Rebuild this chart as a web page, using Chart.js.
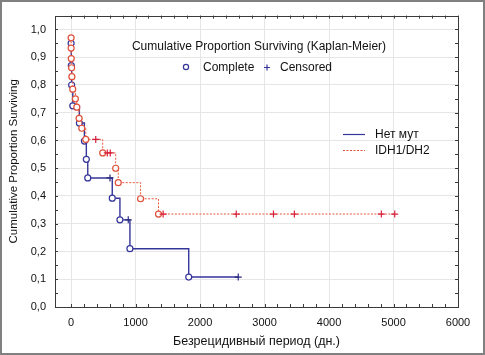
<!DOCTYPE html>
<html>
<head>
<meta charset="utf-8">
<script src="https://cdn.jsdelivr.net/npm/chart.js@4/dist/chart.umd.min.js"></script>
<style>
html, body { margin: 0; padding: 0; background: #fff; }
</style>
</head>
<body>
<canvas id="kmChart" width="485" height="355"></canvas>
<script>
// axis ticks
var xTicks = [0, 1000, 2000, 3000, 4000, 5000, 6000];
var yTicks = [0, 0.1, 0.2, 0.3, 0.4, 0.5, 0.6, 0.7, 0.8, 0.9, 1.0];

var seriesNames = ['Нет мут', 'IDH1/DH2'];

// Нет мут  ('o' = complete, '+' = censored)
var noMutTimes = [0, 3, 8, 26, 128, 206, 236, 258, 603, 638, 757, 886, 912, 1824, 2592];
var noMutSurv  = [0.95, 0.87, 0.80, 0.725, 0.663, 0.598, 0.532, 0.465, 0.465, 0.392, 0.314, 0.314, 0.21, 0.108, 0.108];
var noMutType  = ['o', 'o', 'o', 'o', 'o', 'o', 'o', 'o', '+', 'o', 'o', '+', 'o', 'o', '+'];

// IDH1/DH2
var idhTimes = [0, 0, 2, 8, 12, 25, 66, 88, 124, 165, 227, 382, 490, 561, 607, 691, 731, 1077, 1355, 1427, 2561, 3138, 3462, 4811, 5019];
var idhSurv  = [0.97, 0.933, 0.895, 0.862, 0.83, 0.785, 0.75, 0.72, 0.68, 0.644, 0.604, 0.604, 0.555, 0.555, 0.555, 0.50, 0.448, 0.39, 0.335, 0.335, 0.335, 0.335, 0.335, 0.335, 0.335];
var idhType  = ['o', 'o', 'o', 'o', 'o', 'o', 'o', 'o', 'o', 'o', 'o', '+', 'o', '+', '+', 'o', 'o', 'o', 'o', '+', '+', '+', '+', '+', '+'];

function toPoints(times, surv) {
    return times.map(function (t, i) { return { x: t, y: surv[i] }; });
}

function kmDataset(label, times, surv, types, lineColor, markColor, crossColor, dash, width) {
    return {
        label: label,
        data: toPoints(times, surv),
        stepped: true,
        borderColor: lineColor,
        borderWidth: width,
        borderDash: dash,
        fill: false,
        pointStyle: function (c) { return types[c.dataIndex] === '+' ? 'cross' : 'circle'; },
        pointRadius: function (c) { return types[c.dataIndex] === '+' ? 3.5 : 3; },
        pointBorderColor: function (c) { return types[c.dataIndex] === '+' ? crossColor : markColor; },
        pointBackgroundColor: '#fff',
        pointBorderWidth: 1.2
    };
}

var framePlugin = {
    id: 'frame',
    beforeDraw: function (chart) {
        var c = chart.ctx;
        c.save();
        c.fillStyle = '#fff';
        c.fillRect(0, 0, chart.width, chart.height);
        c.restore();
    },
    afterDraw: function (chart) {
        var c = chart.ctx, a = chart.chartArea, xs = chart.scales.x, ys = chart.scales.y;
        c.save();
        // plot frame
        c.strokeStyle = '#3a3a3a';
        c.lineWidth = 1;
        c.strokeRect(Math.round(a.left) + 0.5, Math.round(a.top) + 0.5, Math.round(a.right - a.left), Math.round(a.bottom - a.top));
        // small inward ticks
        c.beginPath();
        var v, p;
        for (v = 0; v <= 6000; v += 200) {
            p = Math.round(xs.getPixelForValue(v)) + 0.5;
            c.moveTo(p, a.bottom); c.lineTo(p, a.bottom - 3);
            c.moveTo(p, a.top); c.lineTo(p, a.top + 3);
        }
        for (v = 0; v <= 1.0001; v += 0.05) {
            p = Math.round(ys.getPixelForValue(v)) + 0.5;
            c.moveTo(a.left, p); c.lineTo(a.left + 3, p);
            c.moveTo(a.right, p); c.lineTo(a.right - 3, p);
        }
        c.stroke();
        // outer frame
        c.strokeStyle = '#808080';
        c.lineWidth = 2;
        c.strokeRect(1, 1, chart.width - 2, chart.height - 2);

        // legend: marker types
        c.fillStyle = '#111';
        c.font = '12px "Liberation Sans", Arial, sans-serif';
        c.textBaseline = 'middle';
        c.textAlign = 'center';
        c.fillText('Cumulative Proportion Surviving (Kaplan-Meier)', 259, 47);
        c.textAlign = 'left';
        c.fillText('Complete', 203, 68);
        c.fillText('Censored', 280, 68);
        c.strokeStyle = '#35359a';
        c.lineWidth = 1.2;
        c.beginPath();
        c.arc(186, 67, 2.6, 0, Math.PI * 2);
        c.stroke();
        c.beginPath();
        c.moveTo(264, 67.5); c.lineTo(270, 67.5);
        c.moveTo(267, 64.5); c.lineTo(267, 70.5);
        c.stroke();

        // legend: series
        c.lineWidth = 1.2;
        c.strokeStyle = '#35359a';
        c.setLineDash([]);
        c.beginPath(); c.moveTo(343, 134.5); c.lineTo(365, 134.5); c.stroke();
        c.strokeStyle = '#e0503a';
        c.lineWidth = 1;
        c.setLineDash([2, 1.5]);
        c.beginPath(); c.moveTo(343, 150.5); c.lineTo(365, 150.5); c.stroke();
        c.setLineDash([]);
        c.fillText(seriesNames[0], 375, 135);
        c.fillText(seriesNames[1], 375, 151);
        c.restore();
    }
};

var ctx = document.getElementById('kmChart').getContext('2d');

var chart = new Chart(ctx, {
    type: 'line',
    data: {
        datasets: [
            kmDataset(seriesNames[1], idhTimes, idhSurv, idhType, '#e8583c', '#e0503a', '#d8203a', [2, 1.5], 1),
            kmDataset(seriesNames[0], noMutTimes, noMutSurv, noMutType, '#35359a', '#35359a', '#2a2a80', [], 1.4)
        ]
    },
    options: {
        responsive: false,
        animation: false,
        devicePixelRatio: 1,
        layout: { padding: { left: 0, right: 27, top: 14, bottom: 0 } },
        plugins: {
            legend: { display: false },
            tooltip: { enabled: false }
        },
        scales: {
            x: {
                type: 'linear',
                min: -250,
                max: 6000,
                afterBuildTicks: function (s) { s.ticks = xTicks.map(function (v) { return { value: v }; }); },
                afterFit: function (s) { s.height = 48; },
                grid: { color: '#e6e6e6', drawTicks: false },
                border: { display: false },
                ticks: {
                    padding: 9,
                    color: '#111',
                    maxRotation: 0,
                    font: { family: '"Liberation Sans", Arial, sans-serif', size: 11 },
                    callback: function (v) { return String(v); }
                },
                title: {
                    display: true,
                    text: 'Безрецидивный период (дн.)',
                    color: '#111',
                    padding: { top: 4, bottom: 6 },
                    font: { family: '"Liberation Sans", Arial, sans-serif', size: 12.5 }
                }
            },
            y: {
                type: 'linear',
                min: 0,
                max: 1.05,
                afterBuildTicks: function (s) { s.ticks = yTicks.map(function (v) { return { value: v }; }); },
                afterFit: function (s) { s.width = 55; },
                grid: { color: '#e6e6e6', drawTicks: false },
                border: { display: false },
                ticks: {
                    padding: 9,
                    color: '#111',
                    font: { family: '"Liberation Sans", Arial, sans-serif', size: 11 },
                    callback: function (v) { return v.toFixed(1).replace('.', ','); }
                },
                title: {
                    display: true,
                    text: 'Cumulative Proportion Surviving',
                    color: '#111',
                    padding: { top: 7, bottom: 0 },
                    font: { family: '"Liberation Sans", Arial, sans-serif', size: 11.5 }
                }
            }
        }
    },
    plugins: [framePlugin]
});
</script>
</body>
</html>
